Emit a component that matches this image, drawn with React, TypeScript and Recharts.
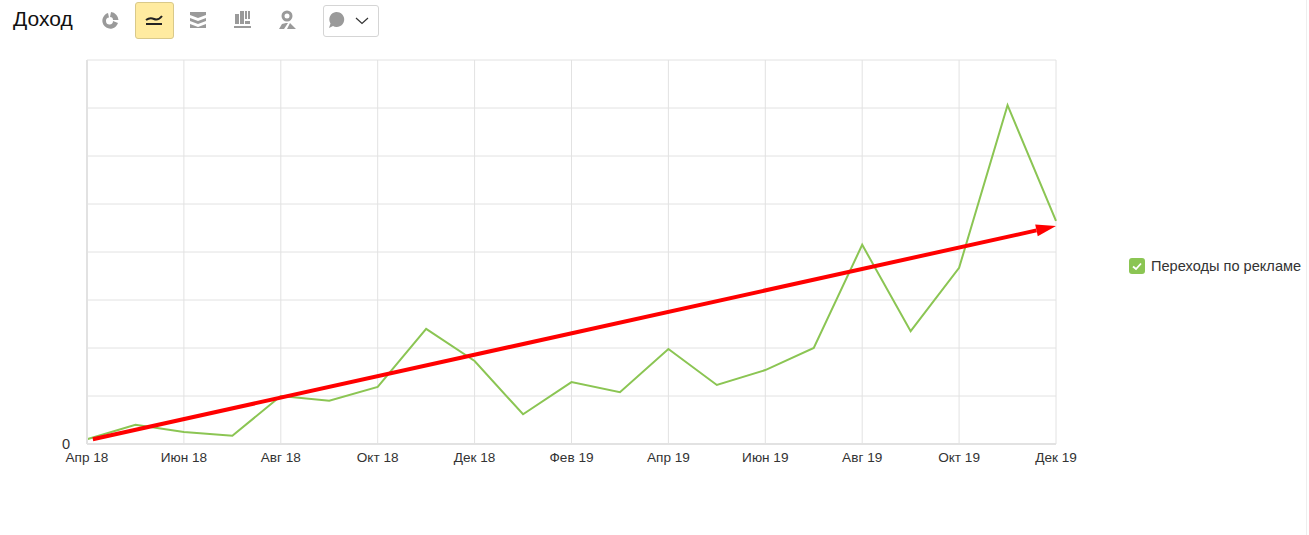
import React from "react";
import { LineChart, Line, XAxis, YAxis, CartesianGrid, ReferenceLine, Legend } from "recharts";

const months = ["Апр 18","Май 18","Июн 18","Июл 18","Авг 18","Сен 18","Окт 18","Ноя 18","Дек 18","Янв 19","Фев 19","Мар 19","Апр 19","Май 19","Июн 19","Июл 19","Авг 19","Сен 19","Окт 19","Ноя 19","Дек 19"];
const income = [0.10,0.40,0.25,0.17,1.00,0.90,1.19,2.40,1.73,0.62,1.29,1.08,1.98,1.23,1.54,2.00,4.15,2.35,3.67,7.06,4.65];
const xTicks = [0,2,4,6,8,10,12,14,16,18,20];
const yTicks = [0,1,2,3,4,5,6,7,8];
const seriesName = "Переходы по рекламе";
const trendStart = { x: 0.12, y: 0.1 };
const trendEnd = { x: 20, y: 4.54 };
const data = months.map((m, i) => ({ i, month: m, income: income[i] }));
const FONT = "'Liberation Sans', Arial, sans-serif";

const Arrow = (p: any) => {
  const { x1, y1, x2, y2 } = p;
  const a = Math.atan2(y2 - y1, x2 - x1);
  const L = 20, W = 6;
  const bx = x2 - L * Math.cos(a), by = y2 - L * Math.sin(a);
  const nx = -Math.sin(a) * W, ny = Math.cos(a) * W;
  return (
    <g>
      <line x1={x1} y1={y1} x2={bx} y2={by} stroke="#ff0000" strokeWidth={4} />
      <polygon points={`${x2},${y2} ${bx + nx},${by + ny} ${bx - nx},${by - ny}`} fill="#ff0000" />
    </g>
  );
};

const Ic = ({ x, children }: any) => (
  <svg width={24} height={24} viewBox="0 0 24 24" style={{ position: "absolute", left: x, top: 8 }}>{children}</svg>
);

const LegendBox = () => (
  <div style={{ display: "flex", alignItems: "center", fontFamily: FONT, fontSize: 14.6, color: "#333", whiteSpace: "nowrap" }}>
    <svg width={16} height={16} style={{ marginRight: 6 }}>
      <rect width={16} height={16} rx={3} fill="#8bc553" />
      <path d="M4 8.5 L7 11 L12 5.5" stroke="#fff" strokeWidth={1.8} fill="none" />
    </svg>
    {seriesName}
  </div>
);

export default function App() {
  return (
    <div style={{ position: "absolute", left: 0, top: 0, width: 1309, height: 535, background: "#fff", overflow: "hidden" }}>
      <div style={{ position: "absolute", left: 13, top: 7, fontFamily: FONT, fontSize: 21, color: "#111" }}>Доход</div>
      <Ic x={98}>
        <path d="M10 5 A8 8 0 1 0 20 15 L15 13 A3.5 3.5 0 1 1 11 9.5 Z" fill="#9a9a9a" />
        <path d="M13 4 A8.5 8.5 0 0 1 20.5 12 L15 12 A3 3 0 0 0 12 9 Z" fill="#9a9a9a" />
      </Ic>
      <div style={{ position: "absolute", left: 135, top: 2, width: 37, height: 35, background: "#ffeba0", border: "1px solid #d9c98a", borderRadius: 3 }} />
      <Ic x={142}>
        <path d="M4 12 Q8 9 12 11 T20 8" stroke="#222" strokeWidth={2} fill="none" />
        <rect x={4} y={15} width={16} height={2} fill="#222" />
      </Ic>
      <Ic x={186}>
        <path d="M4 4 L20 4 L20 7 L12 10 L4 7 Z M4 10 L12 13 L20 10 L20 13 L12 16 L4 13 Z M4 16 L12 19 L20 16 L20 20 L4 20 Z" fill="#9a9a9a" />
      </Ic>
      <Ic x={231}>
        <path d="M4 6 h4 v10 h-4 Z M9 3 h4 v13 h-4 Z M14 3 h2 v8 h-2 Z M17 3 h2 v8 h-2 Z M14 13 h5 v3 h-5 Z M3 18 h17 v2 h-17 Z" fill="#9a9a9a" />
      </Ic>
      <Ic x={275}>
        <circle cx={12} cy={8} r={4} fill="none" stroke="#9a9a9a" strokeWidth={3} />
        <path d="M11 15 L13 15 L9 21 L4 21 L7 16 Z M15 15 L21 21 L12 21 Z" fill="#9a9a9a" />
      </Ic>
      <div style={{ position: "absolute", left: 323, top: 5, width: 54, height: 30, border: "1px solid #d5d5d5", borderRadius: 3 }} />
      <svg width={50} height={24} style={{ position: "absolute", left: 326, top: 8 }}>
        <path d="M10 4 A7.5 7.5 0 1 1 7 18 L3 20 L4.5 15.5 A7.5 7.5 0 0 1 10 4 Z" fill="#9a9a9a" />
        <path d="M30 10 L36 15.5 L42 10" stroke="#333" strokeWidth={1.2} fill="none" />
      </svg>
      <div style={{ position: "absolute", left: 1306, top: 0, width: 1, height: 535, background: "#eeeeee" }} />
      <LineChart width={1309} height={535} data={data} margin={{ top: 60, right: 253, bottom: 45, left: 47 }} style={{ position: "absolute", left: 0, top: 0 }}>
        <CartesianGrid stroke="#e2e2e2" strokeWidth={1} />
        <XAxis dataKey="i" type="number" domain={[0, 20]} ticks={xTicks} interval={0} height={30}
          tickFormatter={(v: number) => months[v]} tickLine={false} axisLine={{ stroke: "#e2e2e2", strokeWidth: 2 }}
          tick={{ fontSize: 13.6, fontFamily: FONT, fill: "#333" }} tickMargin={2} />
        <YAxis type="number" domain={[0, 8]} ticks={yTicks} width={40} interval={0}
          tickFormatter={(v: number) => (v === 0 ? "0" : "")} tickLine={false} axisLine={{ stroke: "#e2e2e2", strokeWidth: 2 }}
          tick={{ fontSize: 14.6, fontFamily: FONT, fill: "#333" }} tickMargin={11} />
        <Line dataKey="income" name={seriesName} stroke="#8bc553" strokeWidth={2} dot={false} isAnimationActive={false} type="linear" />
        <ReferenceLine segment={[trendStart, trendEnd]} shape={<Arrow />} ifOverflow="visible" />
        <Legend content={<LegendBox />} wrapperStyle={{ position: "absolute", left: 1129, top: 258, width: 180 }} />
      </LineChart>
    </div>
  );
}
